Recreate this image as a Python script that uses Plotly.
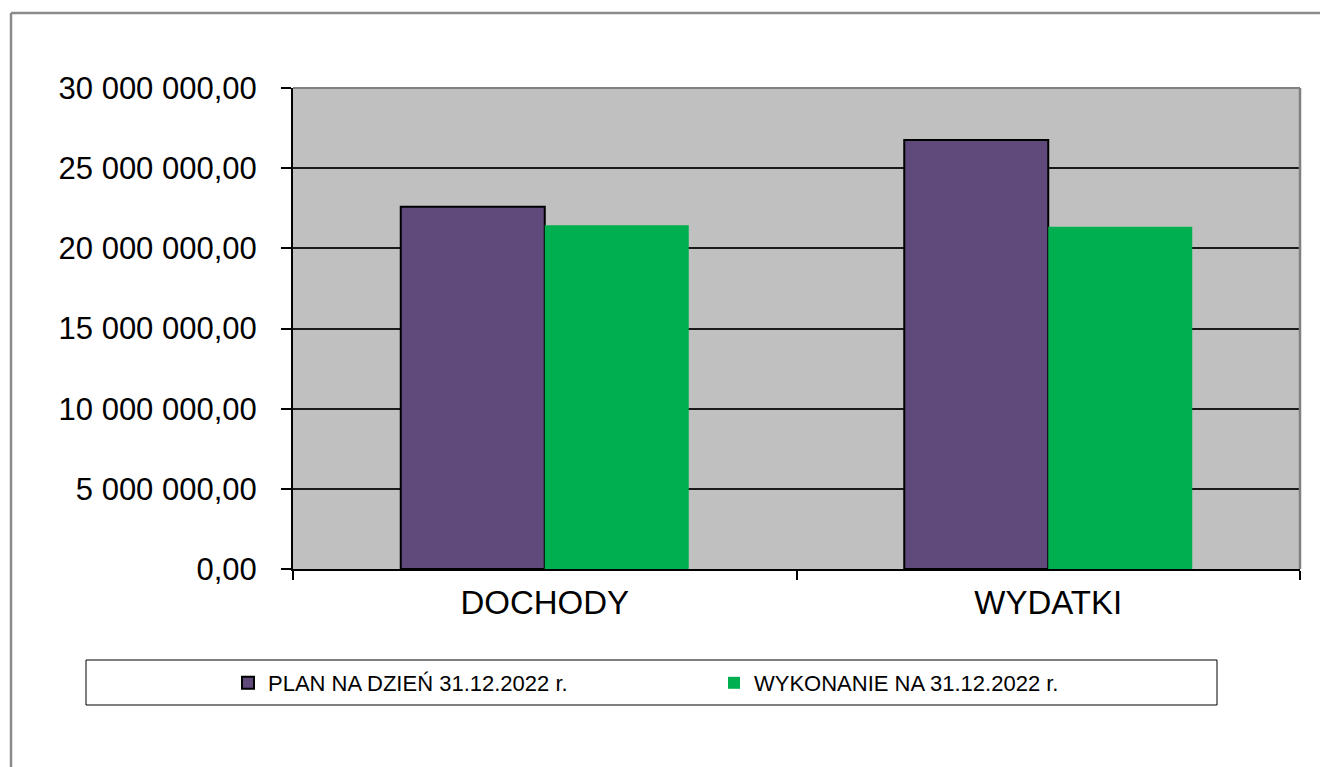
import plotly.graph_objects as go

categories = ["DOCHODY", "WYDATKI"]
plan_name = "PLAN NA DZIEŃ 31.12.2022 r."
exec_name = "WYKONANIE NA 31.12.2022 r."
plan_values = [22600000, 26760000]
exec_values = [21440000, 21350000]
tick_values = [0, 5000000, 10000000, 15000000, 20000000, 25000000, 30000000]
tick_labels = ["0,00", "5 000 000,00", "10 000 000,00", "15 000 000,00",
               "20 000 000,00", "25 000 000,00", "30 000 000,00"]

OFF = 8  # page body margin
W, H = 1328 - OFF, 767 - OFF
L, R, T, B = 293 - OFF, 1300 - OFF, 88 - OFF, 569 - OFF  # plot area (figure px)
PW, PH = R - L, B - T


def px(x):
    return (x - OFF - L) / PW


def py(y):
    return (B - (y - OFF)) / PH


FONT = "Liberation Sans, Arial, sans-serif"

fig = go.Figure()
fig.add_trace(go.Bar(
    x=categories, y=plan_values, name=plan_name,
    marker=dict(color="#604A7B", line=dict(color="#000000", width=2)),
    legend="legend",
))
fig.add_trace(go.Bar(
    x=categories, y=exec_values, name=exec_name,
    marker=dict(color="#00B050", line=dict(width=0)),
    legend="legend2",
))

shapes = [
    # outer chart border (top and left)
    dict(type="line", xref="paper", yref="paper", x0=px(11), x1=px(1340), y0=py(13), y1=py(13),
         line=dict(color="#8a8a8a", width=2.5)),
    dict(type="line", xref="paper", yref="paper", x0=px(11), x1=px(11), y0=py(13), y1=py(780),
         line=dict(color="#8a8a8a", width=2.5)),
    # plot area top and right borders
    dict(type="line", xref="paper", yref="paper", x0=0, x1=1, y0=1, y1=1,
         line=dict(color="#808080", width=2), layer="above"),
    dict(type="line", xref="paper", yref="paper", x0=1, x1=1, y0=0, y1=1,
         line=dict(color="#808080", width=2.5), layer="above"),
    # legend box
    dict(type="rect", xref="paper", yref="paper", x0=px(86), x1=px(1217), y0=py(660), y1=py(705),
         line=dict(color="#000000", width=1), fillcolor="#ffffff", layer="below"),
]

LEG_FONT = dict(size=22, family=FONT, color="#000000")

fig.update_layout(
    width=W, height=H,
    margin=dict(l=L, r=W - R, t=T, b=H - B, pad=0),
    paper_bgcolor="#ffffff",
    plot_bgcolor="#C0C0C0",
    barmode="group",
    bargap=0.428,
    bargroupgap=0,
    font=dict(family=FONT, color="#000000"),
    shapes=shapes,
    showlegend=True,
    legend=dict(x=px(228), y=py(683), xanchor="left", yanchor="middle",
                orientation="h", bgcolor="rgba(0,0,0,0)", borderwidth=0,
                font=LEG_FONT),
    legend2=dict(x=px(714), y=py(683), xanchor="left", yanchor="middle",
                 orientation="h", bgcolor="rgba(0,0,0,0)", borderwidth=0,
                 font=LEG_FONT),
)

fig.update_xaxes(
    showgrid=False, showline=True, linecolor="#000000", linewidth=2,
    ticks="outside", tickson="boundaries", ticklen=9, tickwidth=2, tickcolor="#000000",
    tickfont=dict(size=33, family=FONT, color="#000000"),
    ticklabelstandoff=3,
)
fig.update_yaxes(
    range=[0, 30000000], tickvals=tick_values, ticktext=tick_labels,
    showgrid=True, gridcolor="#1a1a1a", gridwidth=1.5,
    showline=True, linecolor="#000000", linewidth=2,
    ticks="outside", ticklen=10, tickwidth=2, tickcolor="#000000",
    tickfont=dict(size=31, family=FONT, color="#000000"),
    ticklabelstandoff=18, zeroline=False,
)

fig.write_html("out.html")
